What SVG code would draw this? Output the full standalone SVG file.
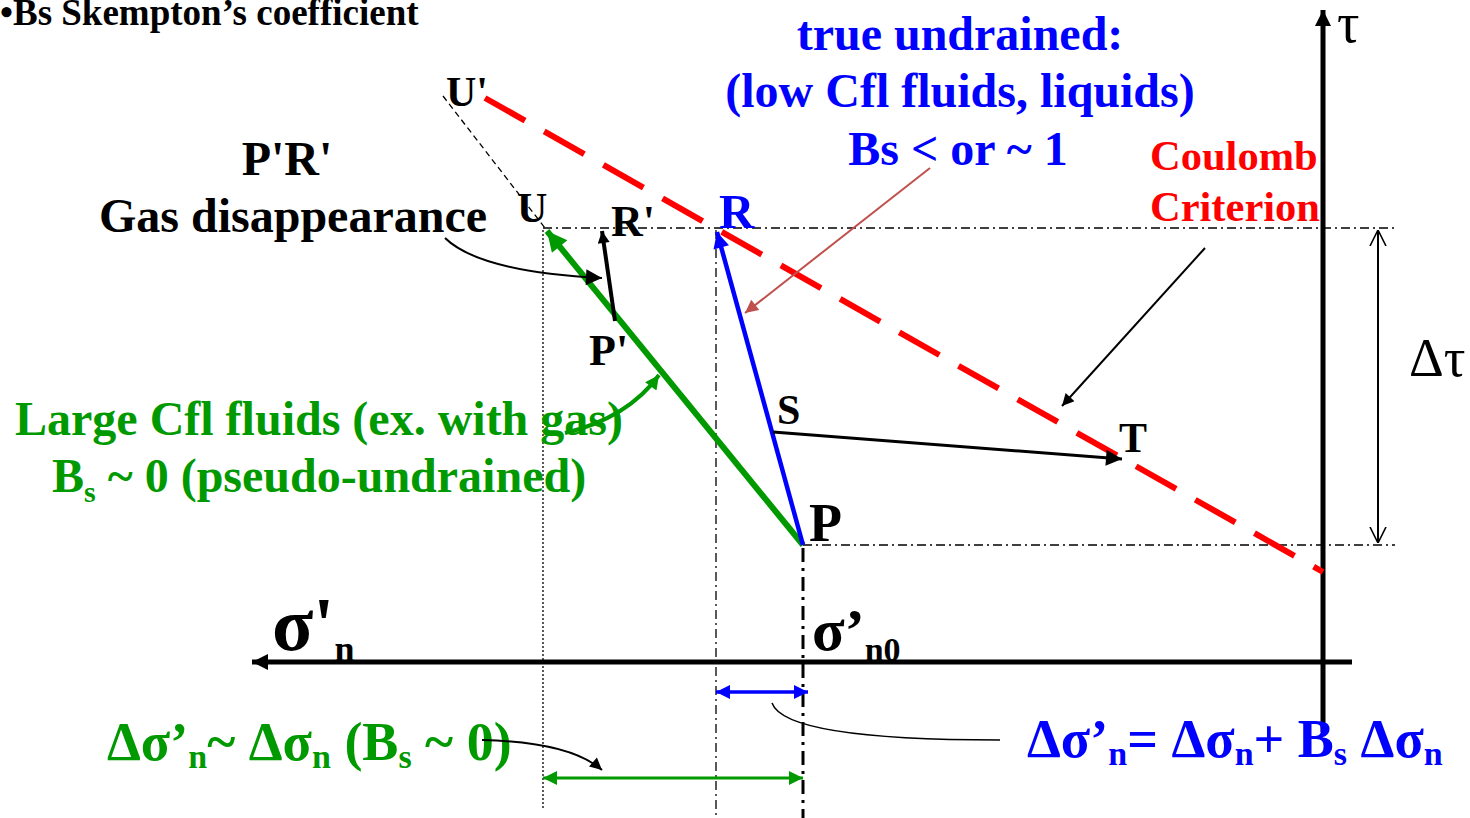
<svg xmlns="http://www.w3.org/2000/svg" width="1470" height="818" viewBox="0 0 1470 818">
<style>
text{font-family:"Liberation Serif","Times New Roman",serif;font-weight:bold}
.k{fill:#000}.b{fill:#0000ff}.g{fill:#009900}.r{fill:#ff0000}
.n{font-weight:normal}
.dd{stroke:#000;stroke-width:1.3;stroke-dasharray:9,4,2,4;fill:none}
</style>
<defs>
<marker id="mg" viewBox="0 0 10 10" refX="10" refY="5" markerWidth="26" markerHeight="20" markerUnits="userSpaceOnUse" orient="auto-start-reverse"><path d="M0,0L10,5L0,10z" fill="#009900"/></marker>
<marker id="mgs" viewBox="0 0 10 10" refX="10" refY="5" markerWidth="16" markerHeight="14" markerUnits="userSpaceOnUse" orient="auto-start-reverse"><path d="M0,0L10,5L0,10z" fill="#009900"/></marker>
<marker id="mb" viewBox="0 0 10 10" refX="10" refY="5" markerWidth="22" markerHeight="16" markerUnits="userSpaceOnUse" orient="auto-start-reverse"><path d="M0,0L10,5L0,10z" fill="#0000ff"/></marker>
<marker id="mbs" viewBox="0 0 10 10" refX="10" refY="5" markerWidth="18" markerHeight="14" markerUnits="userSpaceOnUse" orient="auto-start-reverse"><path d="M0,0L10,5L0,10z" fill="#0000ff"/></marker>
<marker id="mk" viewBox="0 0 10 10" refX="10" refY="5" markerWidth="22" markerHeight="16" markerUnits="userSpaceOnUse" orient="auto-start-reverse"><path d="M0,0L10,5L0,10z" fill="#000"/></marker>
<marker id="mks" viewBox="0 0 10 10" refX="10" refY="5" markerWidth="16" markerHeight="12" markerUnits="userSpaceOnUse" orient="auto-start-reverse"><path d="M0,0L10,5L0,10z" fill="#000"/></marker>
<marker id="mr" viewBox="0 0 10 10" refX="10" refY="5" markerWidth="18" markerHeight="13" markerUnits="userSpaceOnUse" orient="auto-start-reverse"><path d="M0,0L10,5L0,10z" fill="#c0504d"/></marker>
<marker id="mo" viewBox="0 0 10 10" refX="10" refY="5" markerWidth="16" markerHeight="26" markerUnits="userSpaceOnUse" orient="auto-start-reverse"><path d="M0,0L10,5L0,10" fill="none" stroke="#000" stroke-width="1"/></marker>
</defs>

<text x="0" y="25" font-size="37" class="k">•Bs Skempton’s coefficient</text>

<g id="guides">
<line x1="443" y1="96" x2="545" y2="228" stroke="#000" stroke-width="1.3" stroke-dasharray="6,4"/>
<line x1="543" y1="228" x2="1395" y2="228" class="dd"/>
<line x1="803" y1="545" x2="1395" y2="545" class="dd"/>
<line x1="543" y1="230" x2="543" y2="808" stroke="#000" stroke-width="1.3" stroke-dasharray="2,2"/>
<line x1="716" y1="230" x2="716" y2="818" class="dd"/>
<line x1="803" y1="548" x2="803" y2="818" stroke="#000" stroke-width="3" stroke-dasharray="14,6,3,6"/>
</g>

<g id="axes">
<line x1="1323" y1="732" x2="1323" y2="10" stroke="#000" stroke-width="5" marker-end="url(#mk)"/>
<line x1="1352" y1="662" x2="252" y2="662" stroke="#000" stroke-width="5" marker-end="url(#mk)"/>
<text x="1337" y="42" font-size="56" class="k n">τ</text>
<text x="272" y="650" font-size="76" class="k">σ'<tspan font-size="36" dy="11">n</tspan></text>
<text x="812" y="650" font-size="60" class="k">σ’<tspan font-size="34" dy="11">n0</tspan></text>
<line x1="1378" y1="230" x2="1378" y2="543" stroke="#000" stroke-width="2" marker-start="url(#mo)" marker-end="url(#mo)"/>
<text x="1409" y="376" font-size="54" class="k n">Δτ</text>
</g>

<g id="coulomb">
<line x1="485" y1="98" x2="1323" y2="572" stroke="#ff0000" stroke-width="6" stroke-dasharray="46,22"/>
<text x="1150" y="170" font-size="42.5" class="r">Coulomb</text>
<text x="1150" y="221" font-size="42.5" class="r">Criterion</text>
</g>

<g id="labels">
<text x="446" y="106" font-size="42" class="k">U'</text>
<text x="517" y="222" font-size="42" class="k">U</text>
<text x="611" y="236" font-size="44" class="k">R'</text>
<text x="719" y="228" font-size="49" class="b">R</text>
<text x="589" y="365" font-size="44" class="k">P'</text>
<text x="777" y="424" font-size="42" class="k">S</text>
<text x="1119" y="452" font-size="42" class="k">T</text>
<text x="809" y="541" font-size="54" class="k">P</text>
<text x="287" y="175" font-size="48" text-anchor="middle" class="k">P'R'</text>
<text x="293" y="232" font-size="48" text-anchor="middle" class="k">Gas disappearance</text>
<text x="960" y="50" font-size="48" text-anchor="middle" class="b">true undrained:</text>
<text x="960" y="107" font-size="48" text-anchor="middle" class="b">(low Cfl fluids, liquids)</text>
<text x="958" y="165" font-size="48" text-anchor="middle" class="b">Bs &lt; or ~ 1</text>
<text x="15" y="435" font-size="48" class="g">Large Cfl fluids (ex. with gas)</text>
<text x="52" y="492" font-size="48" class="g">B<tspan font-size="30" dy="10">s</tspan><tspan dy="-10"> ~ 0 (pseudo-undrained)</tspan></text>
<text x="107" y="760" font-size="54" class="g">Δσ’<tspan font-size="34" dy="8">n</tspan><tspan dy="-8">~ Δσ</tspan><tspan font-size="34" dy="8">n</tspan><tspan dy="-8"> (B</tspan><tspan font-size="34" dy="8">s</tspan><tspan dy="-8"> ~ 0)</tspan></text>
<text x="1027" y="757" font-size="54" class="b">Δσ’<tspan font-size="34" dy="8">n</tspan><tspan dy="-8">= Δσ</tspan><tspan font-size="34" dy="8">n</tspan><tspan dy="-8">+ B</tspan><tspan font-size="34" dy="8">s</tspan><tspan dy="-8"> Δσ</tspan><tspan font-size="34" dy="8">n</tspan></text>
</g>

<g id="connectors" fill="none">
<line x1="803" y1="545" x2="547" y2="231" stroke="#009900" stroke-width="6" marker-end="url(#mg)"/>
<line x1="803" y1="545" x2="717" y2="232" stroke="#0000ff" stroke-width="4.5" marker-end="url(#mb)"/>
<line x1="615" y1="321" x2="602" y2="231" stroke="#000" stroke-width="4" marker-end="url(#mks)"/>
<line x1="773" y1="432" x2="1122" y2="459" stroke="#000" stroke-width="3" marker-end="url(#mk)"/>
<path d="M445,238 Q480,272 602,278" stroke="#000" stroke-width="2" marker-end="url(#mk)"/>
<line x1="1205" y1="248" x2="1062" y2="406" stroke="#000" stroke-width="2" marker-end="url(#mks)"/>
<line x1="930" y1="168" x2="745" y2="313" stroke="#c0504d" stroke-width="2" marker-end="url(#mr)"/>
<path d="M565,433 Q628,418 659,375" stroke="#009900" stroke-width="4" marker-end="url(#mgs)"/>
<line x1="716" y1="692" x2="808" y2="692" stroke="#0000ff" stroke-width="3.5" marker-start="url(#mbs)" marker-end="url(#mbs)"/>
<line x1="543" y1="778" x2="803" y2="778" stroke="#009900" stroke-width="3" marker-start="url(#mgs)" marker-end="url(#mgs)"/>
<path d="M772,703 Q785,740 1000,740" stroke="#000" stroke-width="1.5"/>
<path d="M482,740 Q570,742 602,770" stroke="#000" stroke-width="2" marker-end="url(#mks)"/>
</g>
</svg>
